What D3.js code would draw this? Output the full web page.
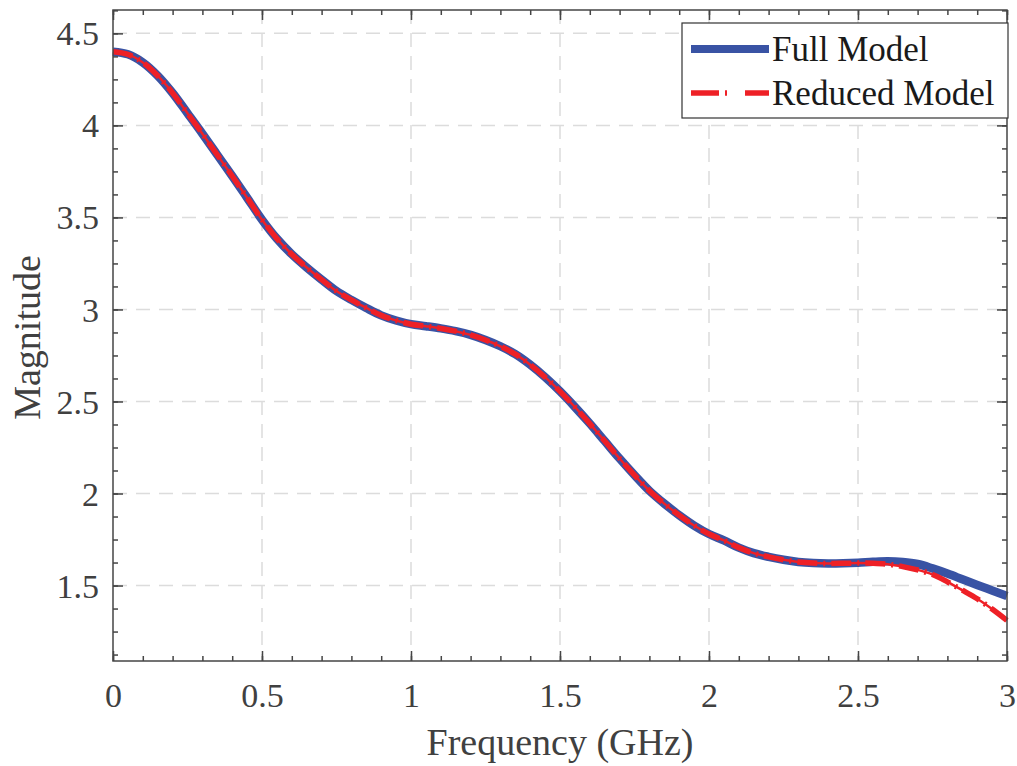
<!DOCTYPE html>
<html>
<head>
<meta charset="utf-8">
<script src="https://cdn.jsdelivr.net/npm/d3@7"></script>
<style>
  html, body { margin: 0; padding: 0; background: #ffffff; }
  svg { display: block; }
  text { font-family: "Liberation Serif", "Times New Roman", serif; }
</style>
</head>
<body>
<svg id="chart" width="1017" height="766"></svg>
<script>
// ---- Data ----
const freq = [0, 0.05, 0.1, 0.15, 0.2, 0.25, 0.3, 0.35, 0.4, 0.45, 0.5, 0.55, 0.6, 0.65, 0.7, 0.75, 0.8, 0.85, 0.9, 0.95,
  1.0, 1.05, 1.1, 1.15, 1.2, 1.25, 1.3, 1.35, 1.4, 1.45, 1.5, 1.55, 1.6, 1.65, 1.7, 1.75, 1.8, 1.85, 1.9, 1.95,
  2.0, 2.05, 2.1, 2.15, 2.2, 2.25, 2.3, 2.35, 2.4, 2.45, 2.5, 2.55, 2.6, 2.65, 2.7, 2.75, 2.8, 2.85, 2.9, 2.95, 3.0];
const fullModel = [4.400, 4.386, 4.342, 4.270, 4.176, 4.066, 3.955, 3.840, 3.725, 3.607, 3.488, 3.385, 3.300, 3.228, 3.162, 3.100, 3.052, 3.008, 2.968, 2.940,
  2.920, 2.909, 2.897, 2.882, 2.862, 2.834, 2.800, 2.757, 2.700, 2.632, 2.555, 2.470, 2.380, 2.285, 2.190, 2.100, 2.015, 1.945, 1.882, 1.826,
  1.780, 1.745, 1.706, 1.676, 1.656, 1.640, 1.628, 1.622, 1.620, 1.621, 1.624, 1.629, 1.632, 1.628, 1.617, 1.593, 1.565, 1.534, 1.503, 1.473, 1.443];
const reducedModel = [4.400, 4.386, 4.342, 4.270, 4.176, 4.066, 3.955, 3.840, 3.725, 3.607, 3.488, 3.385, 3.300, 3.228, 3.162, 3.100, 3.052, 3.008, 2.968, 2.940,
  2.920, 2.909, 2.897, 2.882, 2.862, 2.834, 2.800, 2.757, 2.700, 2.632, 2.555, 2.470, 2.380, 2.285, 2.190, 2.100, 2.015, 1.945, 1.882, 1.826,
  1.780, 1.745, 1.706, 1.676, 1.656, 1.640, 1.628, 1.622, 1.620, 1.621, 1.622, 1.621, 1.616, 1.603, 1.585, 1.560, 1.520, 1.475, 1.428, 1.372, 1.310];
const xTicks = [0, 0.5, 1, 1.5, 2, 2.5, 3];
const xTickLabels = ["0", "0.5", "1", "1.5", "2", "2.5", "3"];
const yTicks = [1.5, 2, 2.5, 3, 3.5, 4, 4.5];
const yTickLabels = ["1.5", "2", "2.5", "3", "3.5", "4", "4.5"];
const seriesNames = ["Full Model", "Reduced Model"];
const xLabel = "Frequency (GHz)";
const yLabel = "Magnitude";

// ---- Layout ----
const W = 1017, H = 766;
const L = 113, R = 1007, T = 10, B = 661;
const axisColor = "#454545";
const textColor = "#404040";
const blue = "#3953a4";
const red = "#ee2026";

const x = d3.scaleLinear().domain([0, 3]).range([L, R]);
const y = d3.scaleLinear().domain([1.09, 4.627]).range([B, T]);

const svg = d3.select("#chart");
svg.append("rect").attr("width", W).attr("height", H).attr("fill", "#fff");

// grid
const grid = svg.append("g");
grid.selectAll("line.gx").data(xTicks.slice(1, -1)).join("line")
  .attr("x1", d => x(d)).attr("x2", d => x(d)).attr("y1", T).attr("y2", B)
  .attr("stroke", "#dcdcdc").attr("stroke-width", 1.5).attr("stroke-dasharray", "14,9");
grid.selectAll("line.gy").data(yTicks).join("line")
  .attr("y1", d => y(d)).attr("y2", d => y(d)).attr("x1", L).attr("x2", R)
  .attr("stroke", "#dcdcdc").attr("stroke-width", 1.5).attr("stroke-dasharray", "14,9");

// lines
const line = vals => d3.line().x((d, i) => x(freq[i])).y(d => y(d)).curve(d3.curveCatmullRom)(vals);
const plot = svg.append("g");
plot.append("path").attr("d", line(fullModel)).attr("fill", "none")
  .attr("stroke", blue).attr("stroke-width", 8.5).attr("stroke-linecap", "butt");
plot.append("path").attr("d", line(reducedModel)).attr("fill", "none")
  .attr("stroke", red).attr("stroke-width", 2.5);
plot.append("path").attr("d", line(reducedModel)).attr("fill", "none")
  .attr("stroke", red).attr("stroke-width", 5.5).attr("stroke-dasharray", "20,6,2,6");

// axes box
const ax = svg.append("g");
ax.append("rect").attr("x", L).attr("y", T).attr("width", R - L).attr("height", B - T)
  .attr("fill", "none").attr("stroke", axisColor).attr("stroke-width", 1.5);

// ticks via d3 axes (inward)
const xMinor = d3.range(0, 3.0001, 0.1);
const yMinor = d3.range(1.125, 4.63, 0.125);
function tickAxis(axisFn, scale, vals, size, transform) {
  const g = ax.append("g").attr("transform", transform)
    .call(axisFn(scale).tickValues(vals).tickSize(size).tickFormat(""));
  g.select(".domain").remove();
  g.selectAll(".tick line").attr("stroke", axisColor).attr("stroke-width", 1.5);
  return g;
}
tickAxis(d3.axisBottom, x, xMinor, -5, `translate(0,${B})`);
tickAxis(d3.axisBottom, x, xTicks, -10, `translate(0,${B})`);
tickAxis(d3.axisTop, x, xMinor, -5, `translate(0,${T})`);
tickAxis(d3.axisTop, x, xTicks, -10, `translate(0,${T})`);
tickAxis(d3.axisLeft, y, yMinor, -5, `translate(${L},0)`);
tickAxis(d3.axisLeft, y, yTicks, -10, `translate(${L},0)`);
tickAxis(d3.axisRight, y, yMinor, -5, `translate(${R},0)`);
tickAxis(d3.axisRight, y, yTicks, -10, `translate(${R},0)`);

// tick labels
const xl = d3.axisBottom(x).tickValues(xTicks).tickSize(0).tickPadding(0)
  .tickFormat((d, i) => xTickLabels[i]);
const gxl = svg.append("g").attr("transform", `translate(0,${B})`).call(xl);
gxl.select(".domain").remove();
gxl.selectAll("text").attr("font-size", 34).attr("fill", textColor)
  .attr("font-family", "Liberation Serif, serif").attr("dy", null).attr("y", 46);

const yl = d3.axisLeft(y).tickValues(yTicks).tickSize(0).tickPadding(0)
  .tickFormat((d, i) => yTickLabels[i]);
const gyl = svg.append("g").attr("transform", `translate(${L},0)`).call(yl);
gyl.select(".domain").remove();
gyl.selectAll("text").attr("font-size", 34).attr("fill", textColor)
  .attr("font-family", "Liberation Serif, serif").attr("x", -14).attr("dy", "0.34em");

// axis titles
svg.append("text").attr("x", (L + R) / 2).attr("y", 755).attr("text-anchor", "middle")
  .attr("font-size", 38).attr("fill", textColor).text(xLabel);
svg.append("text").attr("transform", `translate(40,${(T + B) / 2 + 2}) rotate(-90)`)
  .attr("text-anchor", "middle").attr("font-size", 38).attr("fill", textColor).text(yLabel);

// legend
const lg = svg.append("g");
lg.append("rect").attr("x", 682).attr("y", 23).attr("width", 326).attr("height", 95)
  .attr("fill", "#fff").attr("stroke", "#333").attr("stroke-width", 1.2);
const legendItems = [
  { name: seriesNames[0], y: 49, color: blue, width: 8, dash: null },
  { name: seriesNames[1], y: 93, color: red, width: 5.5, dash: "28,6,2,18" }
];
legendItems.forEach(it => {
  lg.append("line").attr("x1", 691).attr("x2", 769).attr("y1", it.y).attr("y2", it.y)
    .attr("stroke", it.color).attr("stroke-width", it.width)
    .attr("stroke-dasharray", it.dash);
  lg.append("text").attr("x", 772).attr("y", it.y).attr("dy", "0.33em")
    .attr("font-size", 35).attr("fill", "#1a1a1a").text(it.name);
});
</script>
</body>
</html>
